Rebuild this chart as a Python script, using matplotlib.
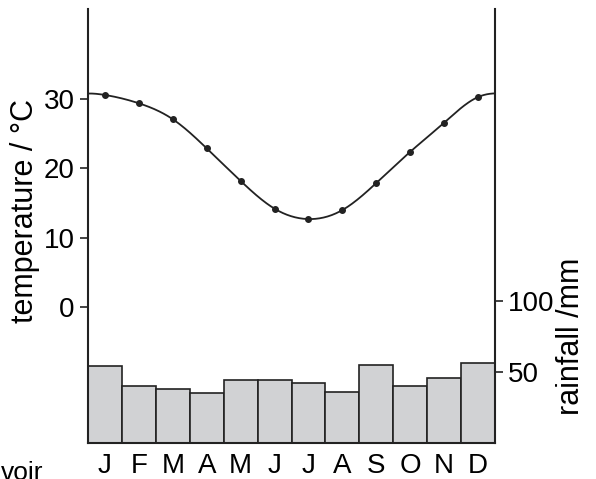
import numpy as np
import matplotlib
matplotlib.use("Agg")
from matplotlib import pyplot as plt

plt.rcParams['font.family'] = ['Liberation Sans', 'DejaVu Sans']

months = ['J', 'F', 'M', 'A', 'M', 'J', 'J', 'A', 'S', 'O', 'N', 'D']
temperature = [30.6, 29.4, 27.1, 22.9, 18.2, 14.2, 12.7, 14.0, 17.9, 22.4, 26.6, 30.3]
rainfall = [54, 40, 38, 35, 44, 44, 42, 36, 55, 40, 46, 56]


def natural_spline(x, y, xs):
    # natural cubic spline through the points
    x = np.asarray(x, float); y = np.asarray(y, float)
    n = len(x)
    h = np.diff(x)
    A = np.zeros((n, n)); b = np.zeros(n)
    A[0, 0] = A[-1, -1] = 1
    for i in range(1, n - 1):
        A[i, i - 1] = h[i - 1]
        A[i, i] = 2 * (h[i - 1] + h[i])
        A[i, i + 1] = h[i]
        b[i] = 6 * ((y[i + 1] - y[i]) / h[i] - (y[i] - y[i - 1]) / h[i - 1])
    M = np.linalg.solve(A, b)
    idx = np.clip(np.searchsorted(x, xs) - 1, 0, n - 2)
    x0, x1 = x[idx], x[idx + 1]
    hh = x1 - x0
    t0, t1 = x1 - xs, xs - x0
    return (M[idx] * t0**3 / (6 * hh) + M[idx + 1] * t1**3 / (6 * hh)
            + (y[idx] / hh - M[idx] * hh / 6) * t0
            + (y[idx + 1] / hh - M[idx + 1] * hh / 6) * t1)


fig = plt.figure(figsize=(5.96, 4.79), dpi=100)
ax = fig.add_axes([88/596, 1 - 443/479, 407/596, 434/479])
ax2 = ax.twinx()

pos = np.arange(len(months))
ax2.bar(pos, rainfall, width=1.0, color='#d1d2d4', edgecolor='#222222', linewidth=1.2)

# year wraps round: pad with the neighbouring months so the ends join smoothly
px = np.concatenate([pos[-2:] - 12, pos, pos[:2] + 12])
py = np.concatenate([temperature[-2:], temperature, temperature[:2]])
xs = np.linspace(-0.5, 11.5, 400)
ax.plot(xs, natural_spline(px, py, xs), color='#222222', lw=1.3, zorder=5)
ax.plot(pos, temperature, 'o', color='#222222', ms=4, zorder=6)
ax.set_zorder(ax2.get_zorder() + 1)
ax.patch.set_visible(False)

ax.set_xlim(-0.5, 11.5)
ax.set_ylim(-19.6, 43)
ax2.set_ylim(0, 305)
ax.set_yticks([0, 10, 20, 30])
ax2.set_yticks([50, 100])

ax.set_xticks(np.arange(-0.5, 12, 1))
ax.set_xticklabels([])
ax.set_xticks(pos, minor=True)
ax.set_xticklabels(months, minor=True)
ax.tick_params(axis='x', which='minor', length=0, labelsize=20, pad=7)
ax.tick_params(axis='x', which='major', length=6, width=1.2, color='#222222')
ax.tick_params(axis='y', length=6, width=1.2, labelsize=20, color='#222222')
ax2.tick_params(axis='y', length=6, width=1.2, labelsize=20, color='#222222')
ax2.set_xticks([])

for s in ['top', 'right']:
    ax.spines[s].set_visible(False)
for s in ['top', 'left', 'bottom']:
    ax2.spines[s].set_visible(False)
for s in ['left', 'bottom']:
    ax.spines[s].set_linewidth(1.5)
    ax.spines[s].set_color('#222222')
ax2.spines['right'].set_linewidth(1.5)
ax2.spines['right'].set_color('#222222')

fig.text(25/596, 1 - 211/479, 'temperature / °C', rotation=90, ha='center', va='center', fontsize=22)
fig.text(571/596, 1 - 336/479, 'rainfall /mm', rotation=90, ha='center', va='center', fontsize=22)
fig.text(1/596, 1 - 480/479, 'voir', ha='left', va='baseline', fontsize=19)

fig.savefig('out.png', dpi=100)
